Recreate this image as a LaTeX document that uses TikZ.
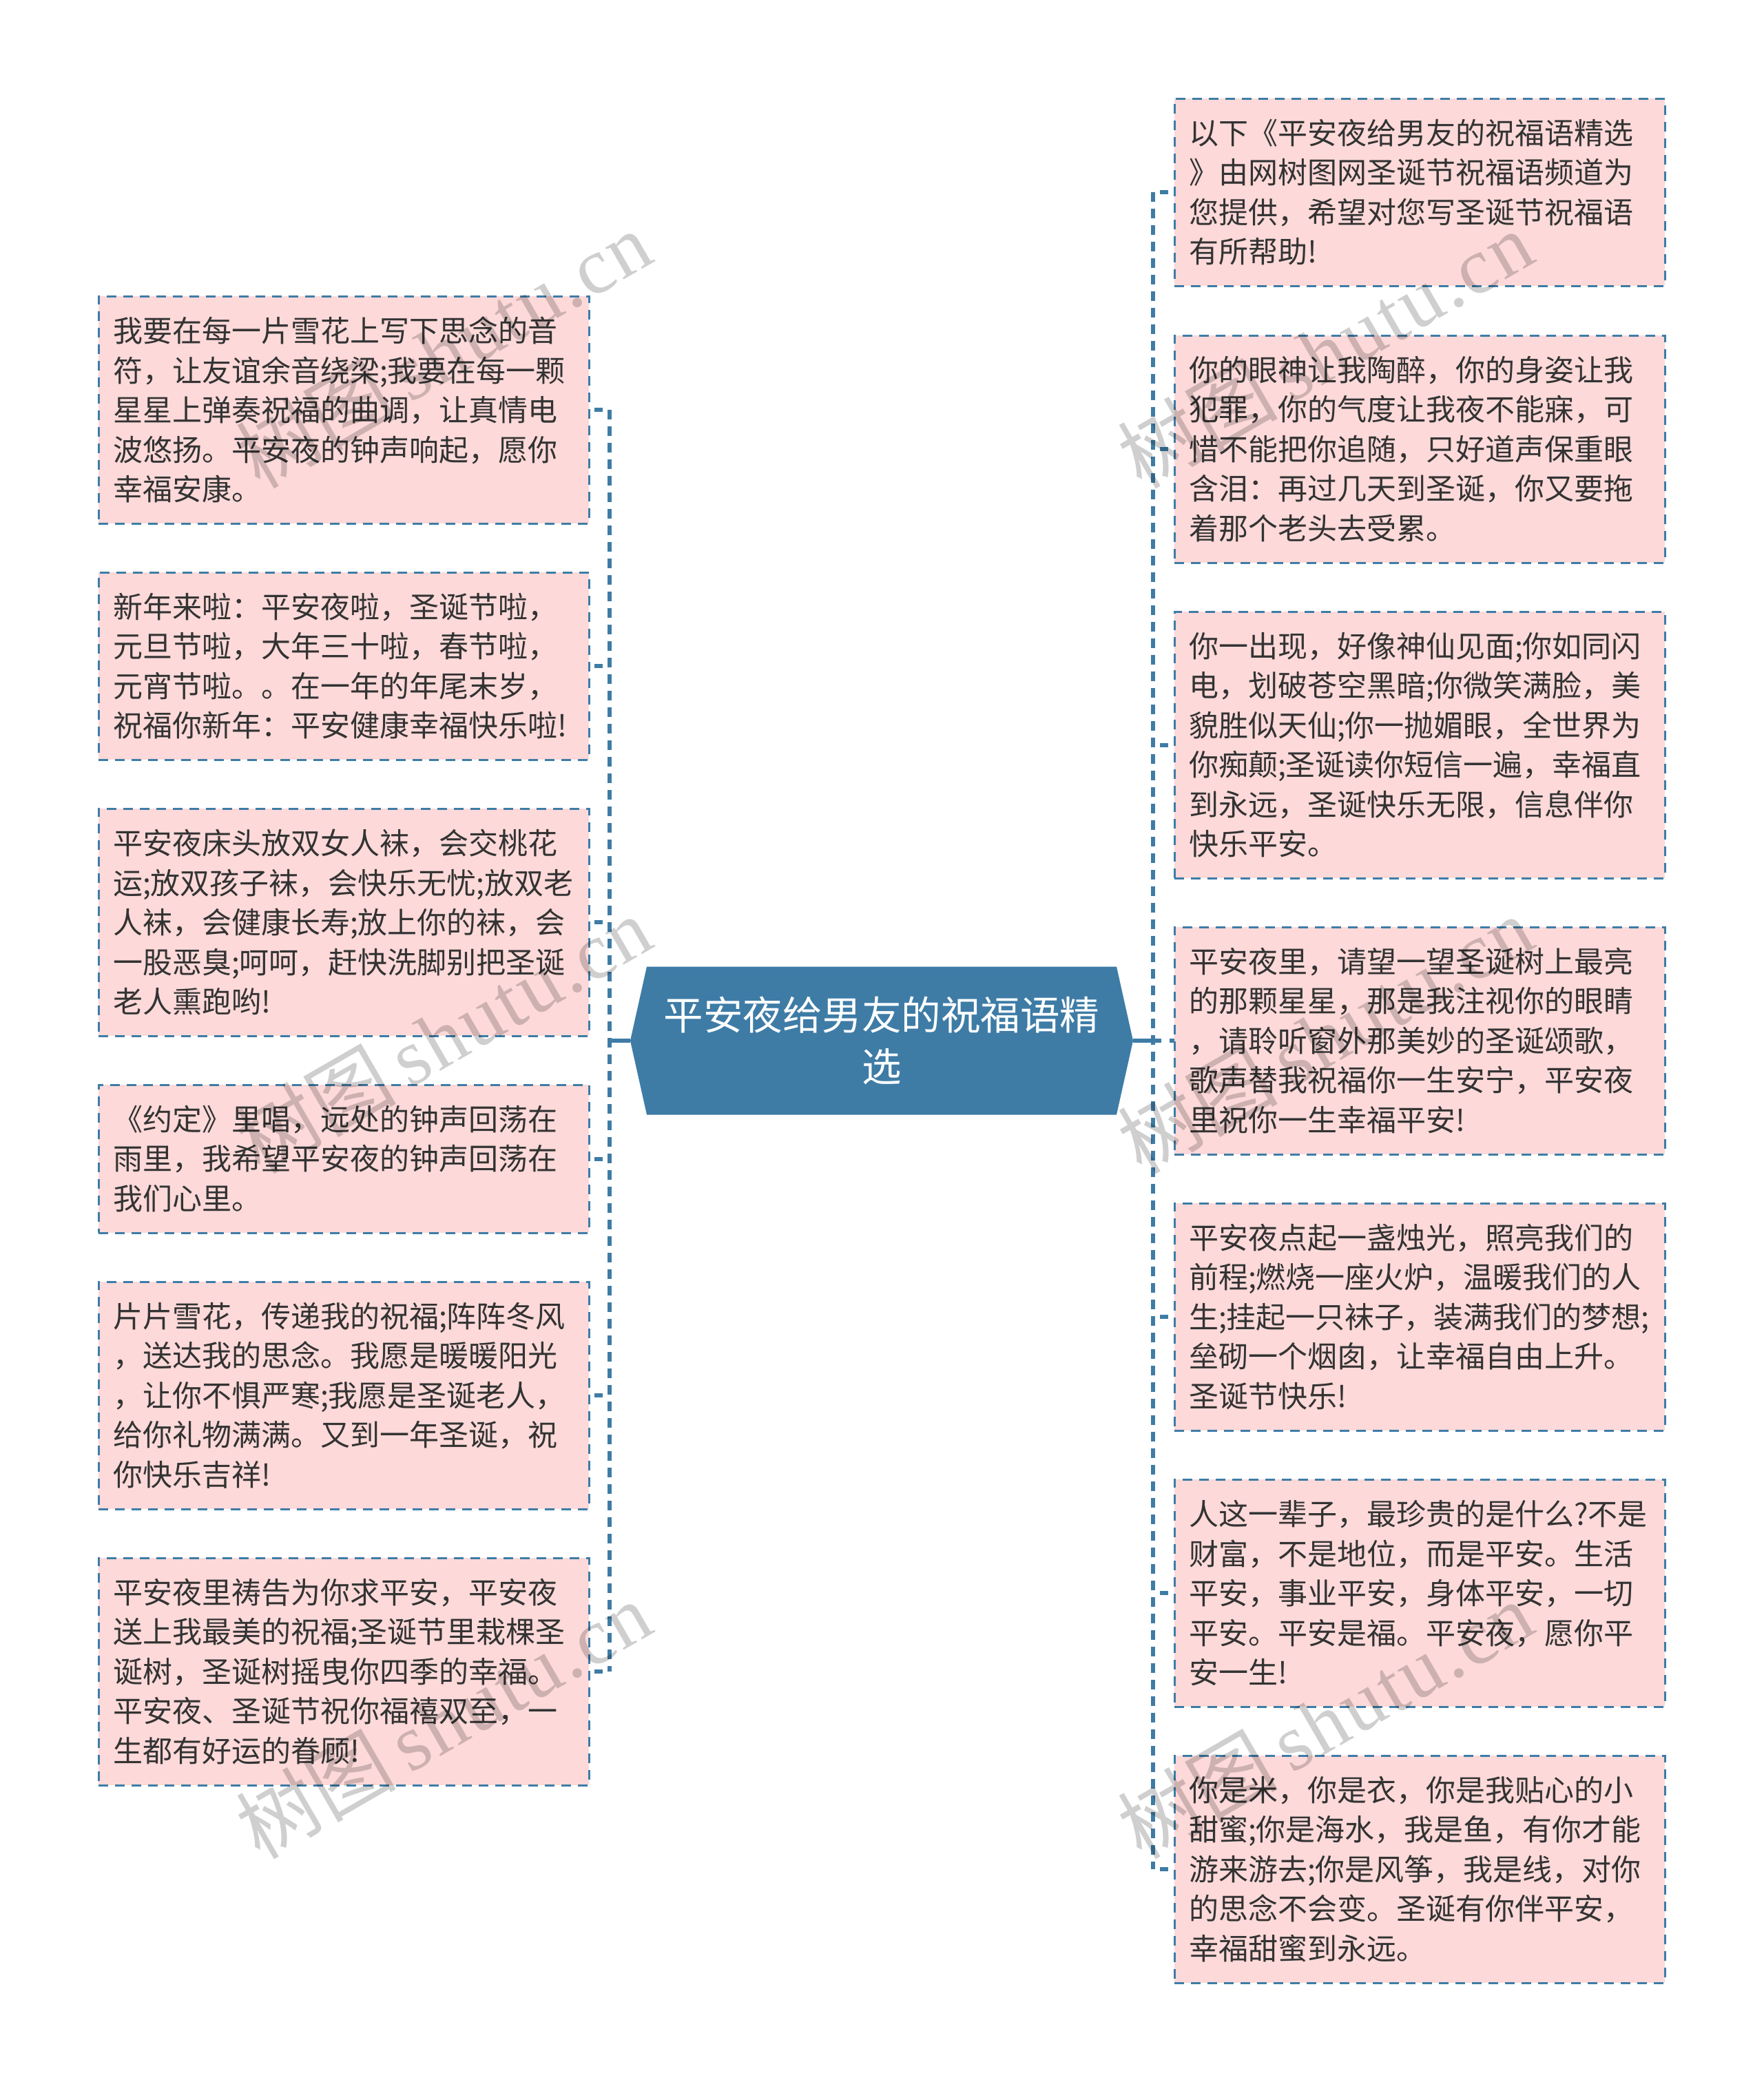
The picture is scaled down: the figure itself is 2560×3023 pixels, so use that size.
\documentclass[tikz,border=0pt]{standalone}
\usepackage{fontspec}
\usetikzlibrary{backgrounds}
\setmainfont{Noto Sans CJK SC}
\newfontfamily\markcjk{Noto Sans CJK SC}
\newfontfamily\marklatin[LetterSpace=3]{Liberation Serif}
\definecolor{linkblue}{HTML}{3E7CA6}
\definecolor{boxpink}{HTML}{FDD9D9}
\definecolor{bodyink}{HTML}{333333}
\tikzset{
  card/.style={draw=linkblue,fill=boxpink,line width=3pt,dash pattern=on 14pt off 10pt,
    shape=rectangle,anchor=north west,inner xsep=21pt,inner ysep=0pt,outer sep=0pt,
    text width=670pt,minimum width=712pt,align=left,text=bodyink,
    font=\fontsize{43pt}{57.5pt}\selectfont},
  rootnode/.style={shape=rectangle,inner sep=0pt,outer sep=0pt,minimum width=730pt,minimum height=215pt,
    text width=700pt,align=center,text=white,font=\fontsize{57.5pt}{75pt}\selectfont},
  spine/.style={draw=linkblue,line width=6pt,dash pattern=on 14pt off 10pt},
  tick/.style={draw=linkblue,line width=6pt,dash pattern=on 12pt off 10pt,dash phase=12pt},
  rootlink/.style={draw=linkblue,line width=6pt},
  wmark/.style={rotate=30,text=black,opacity=0.19,font=\fontsize{116pt}{116pt}\selectfont}
}
\newcommand{\markword}{{\markcjk 树图}\,{\marklatin shutu.cn}}
\begin{document}
\begin{tikzpicture}[x=1pt,y=-1pt]
\useasboundingbox (0,0) rectangle (2560,3023);

\coordinate (lx) at (885,0);
\coordinate (rx) at (1674,0);

\node[rootnode] (root) at (1280,1511) {平安夜给男友的祝福语精\\选};
\begin{scope}[on background layer]
\fill[white] (0,0) rectangle (2560,3023);
\fill[linkblue] (root.west) -- ([xshift=24pt]root.north west) -- ([xshift=-24pt]root.north east)
  -- (root.east) -- ([xshift=-24pt]root.south east) -- ([xshift=24pt]root.south west) -- cycle;
\end{scope}

\node[card,minimum height=330pt] (l1) at (143,430) {我要在每一片雪花上写下思念的音\\符，让友谊余音绕梁;我要在每一颗\\星星上弹奏祝福的曲调，让真情电\\波悠扬。平安夜的钟声响起，愿你\\幸福安康。};
\node[card,minimum height=272pt] (l2) at (143,831) {新年来啦：平安夜啦，圣诞节啦，\\元旦节啦，大年三十啦，春节啦，\\元宵节啦。。在一年的年尾末岁，\\祝福你新年：平安健康幸福快乐啦!};
\node[card,minimum height=330pt] (l3) at (143,1174) {平安夜床头放双女人袜，会交桃花\\运;放双孩子袜，会快乐无忧;放双老\\人袜，会健康长寿;放上你的袜，会\\一股恶臭;呵呵，赶快洗脚别把圣诞\\老人熏跑哟!};
\node[card,minimum height=215pt] (l4) at (143,1575) {《约定》里唱，远处的钟声回荡在\\雨里，我希望平安夜的钟声回荡在\\我们心里。};
\node[card,minimum height=330pt] (l5) at (143,1861) {片片雪花，传递我的祝福;阵阵冬风\\，送达我的思念。我愿是暖暖阳光\\，让你不惧严寒;我愿是圣诞老人，\\给你礼物满满。又到一年圣诞，祝\\你快乐吉祥!};
\node[card,minimum height=330pt] (l6) at (143,2262) {平安夜里祷告为你求平安，平安夜\\送上我最美的祝福;圣诞节里栽棵圣\\诞树，圣诞树摇曳你四季的幸福。\\平安夜、圣诞节祝你福禧双至，一\\生都有好运的眷顾!};

\node[card,minimum height=272pt] (r1) at (1705,143) {以下《平安夜给男友的祝福语精选\\》由网树图网圣诞节祝福语频道为\\您提供，希望对您写圣诞节祝福语\\有所帮助!};
\node[card,minimum height=330pt] (r2) at (1705,487) {你的眼神让我陶醉，你的身姿让我\\犯罪，你的气度让我夜不能寐，可\\惜不能把你追随，只好道声保重眼\\含泪：再过几天到圣诞，你又要拖\\着那个老头去受累。};
\node[card,minimum height=387pt] (r3) at (1705,888) {你一出现，好像神仙见面;你如同闪\\电，划破苍空黑暗;你微笑满脸，美\\貌胜似天仙;你一抛媚眼，全世界为\\你痴颠;圣诞读你短信一遍，幸福直\\到永远，圣诞快乐无限，信息伴你\\快乐平安。};
\node[card,minimum height=330pt] (r4) at (1705,1346) {平安夜里，请望一望圣诞树上最亮\\的那颗星星，那是我注视你的眼睛\\，请聆听窗外那美妙的圣诞颂歌，\\歌声替我祝福你一生安宁，平安夜\\里祝你一生幸福平安!};
\node[card,minimum height=330pt] (r5) at (1705,1747) {平安夜点起一盏烛光，照亮我们的\\前程;燃烧一座火炉，温暖我们的人\\生;挂起一只袜子，装满我们的梦想;\\垒砌一个烟囱，让幸福自由上升。\\圣诞节快乐!};
\node[card,minimum height=330pt] (r6) at (1705,2148) {人这一辈子，最珍贵的是什么?不是\\财富，不是地位，而是平安。生活\\平安，事业平安，身体平安，一切\\平安。平安是福。平安夜，愿你平\\安一生!};
\node[card,minimum height=330pt] (r7) at (1705,2549) {你是米，你是衣，你是我贴心的小\\甜蜜;你是海水，我是鱼，有你才能\\游来游去;你是风筝，我是线，对你\\的思念不会变。圣诞有你伴平安，\\幸福甜蜜到永远。};

\draw[spine] (lx |- l1.east) -- (lx |- l6.east);
\draw[spine] (rx |- r1.west) -- (rx |- r7.west);
\draw[rootlink] (root.west) -- (lx |- root.west);
\draw[spine,dash pattern=on 41pt off 12pt on 10pt] (root.east) -- (r4.west);
\foreach \n in {l1,l2,l3,l4,l5,l6}{\draw[tick] (lx |- \n.east) -- (\n.east);}
\foreach \n in {r1,r2,r3,r5,r6,r7}{\draw[tick] (rx |- \n.west) -- (\n.west);}

\node[wmark] (w1) at (644,507) {\markword};
\node[wmark] (w2) at (644,1502) {\markword};
\node[wmark] (w3) at (644,2497) {\markword};
\node[wmark] (w4) at (1924,507) {\markword};
\node[wmark] (w5) at (1924,1502) {\markword};
\node[wmark] (w6) at (1924,2497) {\markword};
\end{tikzpicture}
\end{document}
